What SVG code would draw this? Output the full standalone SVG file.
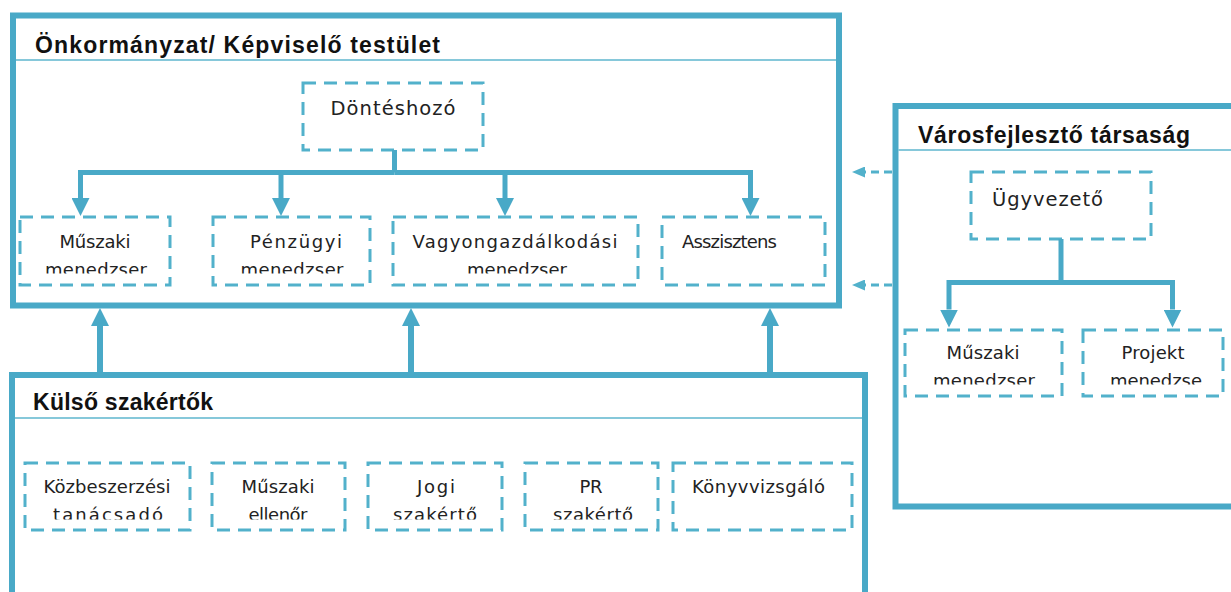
<svg xmlns="http://www.w3.org/2000/svg" width="1231" height="592" viewBox="0 0 1231 592">
<style>
.frame{fill:none;stroke:#49A9C7;stroke-width:6}
.sep{stroke:#86C8DA;stroke-width:2}
.node{fill:#fff;stroke:#52B1CB;stroke-width:3;stroke-dasharray:13 8}
.title{font-family:"Liberation Sans",Arial,sans-serif;font-weight:bold;font-size:23px;fill:#111}
.lbl{font-family:"DejaVu Sans","Liberation Sans",sans-serif;font-size:18px;fill:#222;text-anchor:middle}
.big{font-size:19.5px}
.conn{fill:none;stroke:#49A9C7;stroke-width:5}
.dconn{fill:none;stroke:#52B1CB;stroke-width:3;stroke-dasharray:8 5}
</style>
<defs>
<marker id="arr" viewBox="0 0 18 18" refX="0" refY="9" markerWidth="18" markerHeight="18" markerUnits="userSpaceOnUse" orient="auto">
<path d="M0,0 L18,9 L0,18 z" fill="#49A9C7"/>
</marker>
<marker id="darr" viewBox="0 0 13 11" refX="0" refY="5.5" markerWidth="13" markerHeight="11" markerUnits="userSpaceOnUse" orient="auto">
<path d="M0,0 L13,5.5 L0,11 z" fill="#52B1CB"/>
</marker>
<clipPath id="clipA"><rect x="0" y="0" width="1231" height="273.5"/></clipPath>
<clipPath id="clipB"><rect x="0" y="0" width="1231" height="384.5"/></clipPath>
<clipPath id="clipC"><rect x="0" y="0" width="1231" height="519.5"/></clipPath>
</defs>
<rect width="1231" height="592" fill="#fff"/>

<g id="onkormanyzat">
<rect class="frame" x="13" y="15.5" width="826" height="290"/>
<line class="sep" x1="16" y1="60" x2="836" y2="60"/>
<text class="title" x="35" y="53" textLength="405">Önkormányzat/ Képviselő testület</text>
</g>

<g id="kulso">
<rect class="frame" x="12" y="375" width="853" height="300"/>
<line class="sep" x1="15" y1="418" x2="862" y2="418"/>
<text class="title" x="33" y="410" textLength="180">Külső szakértők</text>
</g>

<g id="varosfejleszto">
<rect class="frame" x="895.5" y="106" width="400" height="400.5"/>
<line class="sep" x1="898" y1="150" x2="1231" y2="150"/>
<text class="title" x="918" y="143" textLength="272">Városfejlesztő társaság</text>
</g>

<g id="donteshozo">
<rect class="node" x="303" y="83" width="180" height="67"/>
<text class="lbl big" x="393" y="115" textLength="125">Döntéshozó</text>
</g>
<g id="muszaki-menedzser">
<rect class="node" x="20" y="217" width="150" height="68"/>
<text class="lbl" x="95" y="248" textLength="71">Műszaki</text>
<text class="lbl" x="96" y="275.5" textLength="102" clip-path="url(#clipA)">menedzser</text>
</g>
<g id="penzugyi-menedzser">
<rect class="node" x="213" y="217" width="157" height="68"/>
<text class="lbl" x="296" y="248" textLength="92">Pénzügyi</text>
<text class="lbl" x="292" y="275.5" textLength="103" clip-path="url(#clipA)">menedzser</text>
</g>
<g id="vagyongazdalkodasi-menedzser">
<rect class="node" x="393" y="217" width="245" height="68"/>
<text class="lbl" x="515" y="248" textLength="205">Vagyongazdálkodási</text>
<text class="lbl" x="517" y="275.5" textLength="100" clip-path="url(#clipA)">menedzser</text>
</g>
<g id="asszisztens">
<rect class="node" x="662" y="217" width="163" height="68"/>
<text class="lbl" x="729.5" y="248" textLength="95">Asszisztens</text>
</g>

<g id="ugyvezeto">
<rect class="node" x="971" y="172" width="180" height="67"/>
<text class="lbl big" x="1047.5" y="206" textLength="111">Ügyvezető</text>
</g>
<g id="muszaki-menedzser-2">
<rect class="node" x="905" y="330" width="157" height="66"/>
<text class="lbl" x="983" y="359" textLength="73">Műszaki</text>
<text class="lbl" x="984" y="386.5" textLength="102" clip-path="url(#clipB)">menedzser</text>
</g>
<g id="projekt-menedzser">
<rect class="node" x="1083" y="330" width="140" height="66"/>
<text class="lbl" x="1153" y="359" textLength="63">Projekt</text>
<text class="lbl" x="1156" y="386.5" textLength="92" clip-path="url(#clipB)">menedzse</text>
</g>

<g id="kozbeszerzesi">
<rect class="node" x="25" y="463" width="165" height="67"/>
<text class="lbl" x="107" y="493" textLength="127">Közbeszerzési</text>
<text class="lbl" x="108" y="521" textLength="110" clip-path="url(#clipC)">tanácsadó</text>
</g>
<g id="muszaki-ellenor">
<rect class="node" x="212" y="463" width="133" height="67"/>
<text class="lbl" x="278" y="493" textLength="73">Műszaki</text>
<text class="lbl" x="278" y="521" textLength="59" clip-path="url(#clipC)">ellenőr</text>
</g>
<g id="jogi-szakerto">
<rect class="node" x="368" y="463" width="134" height="67"/>
<text class="lbl" x="436" y="493" textLength="38">Jogi</text>
<text class="lbl" x="435" y="521" textLength="84" clip-path="url(#clipC)">szakértő</text>
</g>
<g id="pr-szakerto">
<rect class="node" x="525" y="463" width="133" height="67"/>
<text class="lbl" x="591" y="493" textLength="23">PR</text>
<text class="lbl" x="593" y="521" textLength="80" clip-path="url(#clipC)">szakértő</text>
</g>
<g id="konyvvizsgalo">
<rect class="node" x="673" y="463" width="179" height="67"/>
<text class="lbl" x="758.5" y="493" textLength="133">Könyvvizsgáló</text>
</g>

<g id="connectors">
<path class="conn" d="M394.5,150 V172.5"/>
<path class="conn" d="M394.5,172.5 H80.5 V198" marker-end="url(#arr)"/>
<path class="conn" d="M394.5,172.5 H750.5 V198" marker-end="url(#arr)"/>
<path class="conn" d="M281,172.5 V198" marker-end="url(#arr)"/>
<path class="conn" d="M505,172.5 V198" marker-end="url(#arr)"/>

<path class="conn" style="stroke-width:6" d="M100,372 V326" marker-end="url(#arr)"/>
<path class="conn" style="stroke-width:6" d="M411,372 V326" marker-end="url(#arr)"/>
<path class="conn" style="stroke-width:6" d="M770,372 V326" marker-end="url(#arr)"/>

<path class="conn" d="M1061,239 V282.5"/>
<path class="conn" d="M1061,282.5 H949 V309.5" marker-end="url(#arr)"/>
<path class="conn" d="M1061,282.5 H1172.5 V309.5" marker-end="url(#arr)"/>

<path class="dconn" d="M892,172 H865" marker-end="url(#darr)"/>
<path class="dconn" d="M892,285 H865" marker-end="url(#darr)"/>
</g>
</svg>
